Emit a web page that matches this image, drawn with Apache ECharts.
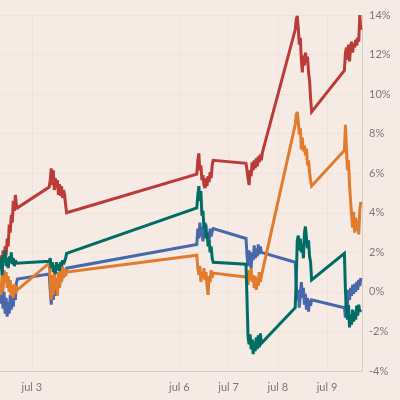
<!DOCTYPE html>
<html>
<head>
    <meta charset="utf-8">
    <title>Intraday returns</title>
    <script src="https://cdn.jsdelivr.net/npm/echarts@6.0.0/dist/echarts.min.js"></script>
    <style>
        html, body { margin: 0; padding: 0; background: #f6eae5; }
        #main { width: 400px; height: 400px; }
    </style>
</head>
<body>
    <div id="main"></div>
    <script>
        // trading sessions (local time), one sample every 30 minutes
        var sessionStarts = ['2015-07-02T08:30:00', '2015-07-03T08:30:00', '2015-07-06T08:30:00',
                             '2015-07-07T08:30:00', '2015-07-08T08:30:00', '2015-07-09T08:30:00'];
        var stepMinutes = 30;
        var tickDays = ['2015-07-03T00:00:00', '2015-07-06T00:00:00', '2015-07-07T00:00:00',
                        '2015-07-08T00:00:00', '2015-07-09T00:00:00'];
        var yTicks = [-4, -2, 0, 2, 4, 6, 8, 10, 12, 14];

        // % change, one array per session
        var redValues = [
            [1.35, 1.85, 1.1, 2.1, 1.5, 2.3, 1.85, 2.7, 2.3, 3.4, 3.0, 3.9, 3.5, 4.6, 4.1, 4.9, 4.4, 4.25],
            [5.3, 5.65, 6.25, 5.4, 6.15, 5.15, 5.75, 5.25, 5.65, 4.9, 5.45, 4.85, 5.35, 4.75, 5.15, 4.9, 4.4, 4.0],
            [5.95, 6.65, 7.0, 6.15, 6.4, 5.65, 5.9, 5.4, 5.25, 5.75, 5.35, 5.85, 5.55, 6.05, 5.75, 6.4, 6.65],
            [6.5, 6.15, 5.75, 5.4, 6.15, 5.85, 6.55, 6.15, 6.65, 6.25, 6.75, 6.35, 6.85, 6.55, 6.95, 6.65, 7.05],
            [13.25, 13.75, 13.95, 13.35, 12.5, 12.85, 11.75, 11.1, 11.95, 11.45, 12.1, 11.6, 11.9, 11.1, 10.7, 9.8, 9.1],
            [11.2, 12.1, 12.35, 11.75, 12.5, 11.65, 12.35, 12.65, 12.1, 12.55, 12.35, 12.75, 12.45, 12.85, 12.65, 14.0, 13.25]
        ];
        var orangeValues = [
            [0.5, -0.15, 0.85, 0.1, 1.1, 0.45, 1.0, 0.2, 0.8, 0.0, 0.6, -0.2, 0.35, -0.3, 0.4, -0.1, 0.3, 0.1],
            [1.45, 0.6, -0.4, 0.85, -0.15, 1.1, 0.1, 0.7, -0.2, 1.0, 0.2, 1.2, 0.5, 1.3, 0.7, 1.2, 0.8, 1.0],
            [1.85, 1.2, 0.85, 1.3, 0.5, 1.0, 0.7, 1.2, 0.6, 1.0, 0.3, -0.15, 0.8, 0.5, 1.1, 0.7, 0.95],
            [0.75, 1.0, 0.35, 1.1, 0.6, 1.2, 0.5, 0.85, 0.2, 0.8, 0.1, 0.7, 0.3, 1.0, 0.5, 0.8, 0.7],
            [8.45, 8.95, 9.1, 8.6, 7.95, 8.3, 7.2, 7.8, 7.1, 7.4, 6.9, 7.25, 6.4, 6.65, 6.05, 5.65, 5.35],
            [7.15, 8.45, 7.25, 6.15, 6.65, 5.4, 4.65, 3.9, 3.25, 4.05, 3.0, 3.75, 3.1, 3.6, 2.9, 4.15, 4.55]
        ];
        var tealValues = [
            [1.2, 1.7, 0.85, 1.85, 1.5, 2.1, 1.3, 1.7, 1.2, 1.8, 1.45, 2.0, 1.4, 1.7, 1.3, 1.6, 1.45, 1.55],
            [1.55, 1.7, 1.2, 1.5, 1.0, 1.35, 0.9, 1.5, 1.1, 1.4, 1.05, 1.5, 1.3, 1.6, 1.4, 1.5, 1.7, 1.95],
            [4.25, 4.9, 5.35, 4.6, 5.1, 3.85, 4.1, 3.2, 3.5, 2.7, 3.0, 2.3, 2.6, 2.0, 2.3, 1.7, 1.5],
            [1.4, -0.4, -2.3, -2.65, -2.15, -2.9, -2.4, -3.15, -2.5, -3.0, -2.3, -2.9, -2.2, -2.8, -2.1, -2.6, -2.5],
            [-0.8, 0.6, 2.6, 2.85, 2.1, 2.7, 2.0, 2.4, 1.7, 3.0, 3.3, 2.7, 2.2, 2.6, 1.8, 1.5, 0.6],
            [1.95, 0.1, -0.9, -1.4, -0.65, -1.8, -1.15, -1.65, -0.9, -1.5, -1.0, -1.4, -0.7, -1.2, -0.65, -1.0, -0.9]
        ];
        var blueValues = [
            [0.1, -0.6, 0.35, -0.85, 0.0, -1.1, -0.3, -1.25, -0.5, -1.1, -0.15, -0.9, 0.1, -0.75, 0.2, -0.4, 0.45, 0.65],
            [0.9, 0.1, -0.65, 0.4, -0.4, 0.6, -0.2, 0.4, 0.0, 0.7, 0.2, 0.9, 0.5, 1.1, 0.8, 1.2, 1.0, 1.2],
            [2.4, 3.2, 2.7, 3.5, 2.8, 3.3, 2.55, 3.2, 2.8, 3.4, 2.7, 3.05, 2.55, 3.2, 2.8, 3.05, 3.2],
            [2.7, 1.85, 1.3, 2.1, 1.5, 1.2, 2.0, 1.6, 2.35, 1.7, 2.2, 1.8, 2.4, 1.9, 2.3, 2.0, 2.0],
            [1.5, 0.35, -0.4, 0.1, -0.8, -0.15, 0.5, -0.3, 0.2, -0.65, -0.1, -0.9, -0.3, -1.0, -0.4, -0.7, -0.4],
            [-0.8, -1.3, -0.2, -0.65, 0.1, -0.4, 0.2, -0.2, 0.35, -0.1, 0.4, 0.0, 0.5, 0.1, 0.6, 0.3, 0.7]
        ];

        function toPoints(sessions) {
            var pts = [];
            sessions.forEach(function (vals, s) {
                var t0 = new Date(sessionStarts[s]).getTime();
                vals.forEach(function (v, i) {
                    pts.push([t0 + i * stepMinutes * 60000, v]);
                });
            });
            return pts;
        }

        var tickTimes = tickDays.map(function (d) { return new Date(d).getTime(); });
        var xMin = new Date('2015-07-02T08:30:00').getTime();
        var xMax = new Date('2015-07-09T17:05:00').getTime();

        var gridColor = '#efe2d8';
        var axisColor = '#d6cbc5';
        var labelColor = '#7d7775';
        var font = 'Lato';

        function lineSeries(name, color, sessions) {
            return {
                name: name,
                type: 'line',
                data: toPoints(sessions),
                showSymbol: false,
                lineStyle: { color: color, width: 3, join: 'miter', miterLimit: 3 },
                z: 3
            };
        }

        var myChart = echarts.init(document.getElementById('main'));
        var option = {
            backgroundColor: '#f6eae5',
            animation: false,
            grid: { left: 0, right: 38, top: 15, bottom: 29 },
            xAxis: {
                type: 'value',
                min: xMin,
                max: xMax,
                axisLine: { show: true, onZero: false, lineStyle: { color: axisColor, width: 1 } },
                axisTick: { show: false },
                splitLine: { show: false },
                axisLabel: {
                    customValues: tickTimes,
                    color: labelColor,
                    fontFamily: font,
                    fontSize: 11,
                    margin: 11,
                    formatter: function (val) {
                        return 'jul ' + new Date(val).getDate();
                    }
                }
            },
            yAxis: {
                type: 'value',
                position: 'right',
                min: -4,
                max: 14,
                interval: 2,
                axisLine: { show: true, lineStyle: { color: axisColor, width: 1 } },
                axisTick: { show: false },
                splitLine: { show: true, lineStyle: { color: gridColor, width: 1 } },
                axisLabel: {
                    color: labelColor,
                    fontFamily: font,
                    fontSize: 11,
                    margin: 7,
                    formatter: '{value}%'
                }
            },
            series: [
                {
                    type: 'line',
                    data: [],
                    silent: true,
                    z: 1,
                    markLine: {
                        silent: true,
                        z: 1,
                        symbol: 'none',
                        label: { show: false },
                        lineStyle: { color: gridColor, width: 1, type: 'solid' },
                        emphasis: { disabled: true },
                        data: tickTimes.map(function (t) { return { xAxis: t }; })
                    }
                },
                lineSeries('blue', '#4768ab', blueValues),
                lineSeries('red', '#bb3b36', redValues),
                lineSeries('orange', '#e27b2c', orangeValues),
                lineSeries('teal', '#006d64', tealValues)
            ]
        };
        myChart.setOption(option);
    </script>
</body>
</html>
